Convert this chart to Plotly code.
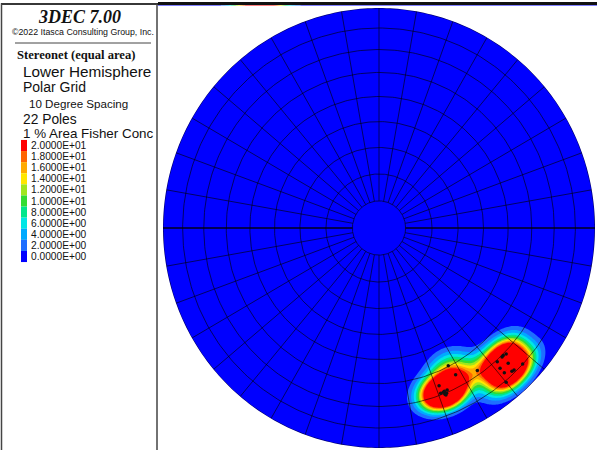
import numpy as np
import plotly.graph_objects as go

# ---------------- data ----------------
pole_trend = [152.9, 152.0, 158.8, 158.3, 156.8, 157.4, 159.2, 158.0, 157.8, 157.8,
              144.9,
              134.2, 135.2, 138.0, 135.8, 132.9, 138.7, 138.6, 136.6, 135.9, 140.0, 135.8]
pole_plunge = [30.3, 25.4, 24.1, 20.7, 21.0, 19.7, 20.7, 19.6, 21.0, 19.1,
               21.9,
               19.0, 19.5, 19.3, 15.3, 10.1, 16.2, 13.3, 11.4, 11.1, 9.3, 19.4]
contour_levels = [0, 2, 4, 6, 8, 10, 12, 14, 16, 18, 20]
level_labels = ["0.0000E+00", "2.0000E+00", "4.0000E+00", "6.0000E+00", "8.0000E+00",
                "1.0000E+01", "1.2000E+01", "1.4000E+01", "1.6000E+01", "1.8000E+01",
                "2.0000E+01"]
level_colors = ["#0000FF", "#1E6EFF", "#00AAFF", "#00E6E6", "#00E68C", "#32DC32",
                "#A0E61E", "#FFE600", "#FFAA00", "#FF6400", "#FF0000"]
grid_dips = [10, 20, 30, 40, 50, 60, 70, 80, 90]
grid_azimuths = list(range(0, 360, 10))
kappa = 165.0

W, H = 597, 450
def px(x):
    return x / W
def py(y):
    return 1 - y / H

# net placement in pixels: x 163..595, y 8..448 ; plot area spans x 158..597, y 4..450
NX0, NX1, NY0, NY1 = 163.0, 595.0, 8.0, 448.0
AX0, AX1, AY0, AY1 = 158.0, 597.0, 4.0, 450.0
sxp = 2 / (NX1 - NX0)
syp = 2 / (NY1 - NY0)
xr = [-1 - (NX0 - AX0) * sxp, 1 + (AX1 - NX1) * sxp]
yr = [-1 - (AY1 - NY1) * syp, 1 + (NY0 - AY0) * syp]

# ---------------- pole vectors ----------------
t = np.radians(pole_trend)
p = np.radians(pole_plunge)
pv = np.stack([np.cos(p) * np.sin(t), np.cos(p) * np.cos(t), -np.sin(p)], axis=1)
N = len(pole_trend)

pr = np.sqrt(2) * np.sin(np.radians(90 - np.array(pole_plunge)) / 2)
pole_x = pr * np.sin(t)
pole_y = pr * np.cos(t)

# ---------------- Fisher density on the net ----------------
g = np.linspace(-1.03, 1.03, 265)
GX, GY = np.meshgrid(g, g)
R = np.sqrt(GX ** 2 + GY ** 2)
R = np.clip(R, 1e-9, np.sqrt(2) - 1e-9)
th = 2 * np.arcsin(R / np.sqrt(2))
vx = np.sin(th) * GX / R
vy = np.sin(th) * GY / R
vz = -np.cos(th)
dens = np.zeros_like(GX)
for v in pv:
    d = vx * v[0] + vy * v[1] + vz * v[2]
    dens += np.exp(kappa * (d - 1)) + np.exp(kappa * (-d - 1))
dens *= kappa / N

fig = go.Figure()
fig.add_trace(go.Contour(
    x=g, y=g, z=dens,
    contours=dict(start=2, end=20, size=2, coloring="fill", showlines=False),
    colorscale=[[i / 10, c] for i, c in enumerate(level_colors)],
    line=dict(width=0), showscale=False, hoverinfo="skip"))

# ---------------- polar grid ----------------
cx, cy = [], []
ang = np.linspace(0, 2 * np.pi, 361)
for dip in grid_dips:
    r = np.sqrt(2) * np.sin(np.radians(dip) / 2)
    cx += list(r * np.cos(ang)) + [None]
    cy += list(r * np.sin(ang)) + [None]
r_in = np.sqrt(2) * np.sin(np.radians(grid_dips[0]) / 2)
sx, sy, ex, ey = [], [], [], []
for az in grid_azimuths:
    a = np.radians(az)
    seg_x = [r_in * np.sin(a), np.sin(a), None]
    seg_y = [r_in * np.cos(a), np.cos(a), None]
    if az in (90, 270):
        ex += seg_x; ey += seg_y
    else:
        sx += seg_x; sy += seg_y
fig.add_trace(go.Scatter(x=cx, y=cy, mode="lines",
                         line=dict(color="rgba(0,0,0,0.6)", width=1), hoverinfo="skip"))
fig.add_trace(go.Scatter(x=sx, y=sy, mode="lines",
                         line=dict(color="rgba(0,0,0,0.6)", width=1), hoverinfo="skip"))
fig.add_trace(go.Scatter(x=ex, y=ey, mode="lines",
                         line=dict(color="rgba(0,0,0,0.9)", width=1.4), hoverinfo="skip"))
fig.add_trace(go.Scatter(x=pole_x, y=pole_y, mode="markers",
                         marker=dict(color="#111111", size=3.5), hoverinfo="skip"))

# ---------------- mask outside the net (paper coordinates) ----------------
ncx, ncy = (NX0 + NX1) / 2, (NY0 + NY1) / 2
nrx, nry = (NX1 - NX0) / 2, (NY1 - NY0) / 2
pts = [(px(ncx + nrx * np.cos(a)), py(ncy - nry * np.sin(a))) for a in ang]
circ = "M" + " L".join(f"{a:.6f},{b:.6f}" for a, b in pts) + " Z"
mtop = py(5.6)
mask = (f"M{px(AX0):.6f},0 L1,0 L1,{mtop:.6f} L{px(AX0):.6f},{mtop:.6f} Z " + circ)
shapes = [dict(type="path", path=mask, xref="paper", yref="paper", fillcolor="white",
               fillrule="evenodd", line=dict(width=0), layer="above")]

# ---------------- frame and left panel ----------------
shapes.append(dict(type="line", xref="paper", yref="paper", x0=px(1), x1=px(597),
                   y0=py(4), y1=py(4), line=dict(color="#111111", width=2)))
shapes.append(dict(type="rect", xref="paper", yref="paper", x0=px(1.5), x1=px(157),
                   y0=py(460), y1=py(4), line=dict(color="#444444", width=1.5),
                   fillcolor="rgba(0,0,0,0)"))
shapes.append(dict(type="line", xref="paper", yref="paper", x0=px(15), x1=px(151),
                   y0=py(43), y1=py(43), line=dict(color="#444444", width=1)))

ann = []
def text(s, x, y, size, family="Liberation Sans", anchor="left"):
    ann.append(dict(text=s, x=px(x), y=py(y), xref="paper", yref="paper",
                    xanchor=anchor, yanchor="middle", showarrow=False,
                    font=dict(family=family, size=size, color="#111111")))

text("<b><i>3DEC 7.00</i></b>", 79, 17, 18, "Liberation Serif", "center")
text("©2022 Itasca Consulting Group, Inc.", 83, 32, 8.8, anchor="center")
text("<b>Stereonet (equal area)</b>", 15, 55, 12.6, "Liberation Serif")
text("Lower Hemisphere", 21, 71, 15.3)
text("Polar Grid", 21, 87, 14)
text("10 Degree Spacing", 27, 104, 11.6)
text("22 Poles", 21, 120, 13.8)
text("1 % Area Fisher Conc", 21, 133.5, 13.4)

y0_lab, dy_lab = 145.5, 11.1
n = len(contour_levels)
for i in range(n):
    k = n - 1 - i
    yc = y0_lab + i * dy_lab
    text(level_labels[k], 29, yc, 10.2)
    shapes.append(dict(type="rect", xref="paper", yref="paper",
                       x0=px(21), x1=px(27), y0=py(yc + dy_lab / 2), y1=py(yc - dy_lab / 2),
                       fillcolor=level_colors[k], line=dict(width=0)))

fig.update_layout(
    width=W, height=H, margin=dict(l=0, r=0, t=0, b=0),
    paper_bgcolor="white", plot_bgcolor="white", showlegend=False,
    xaxis=dict(domain=[px(AX0), px(AX1)], range=xr, side="top", showline=True,
               linecolor="#111111", linewidth=2, showticklabels=False, ticks="",
               showgrid=False, zeroline=False, fixedrange=True),
    yaxis=dict(domain=[py(AY1), py(AY0)], range=yr, visible=False, fixedrange=True),
    shapes=shapes, annotations=ann,
)
fig.write_html("out.html", config={"displayModeBar": False, "staticPlot": True},
               post_script="document.body.style.margin='0';document.body.style.overflow='hidden';")
